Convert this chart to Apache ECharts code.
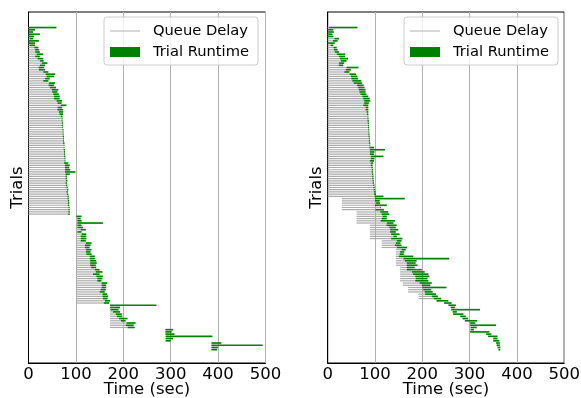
<!DOCTYPE html>
<html>
<head>
<meta charset="utf-8">
<script src="https://cdn.jsdelivr.net/npm/echarts@6/dist/echarts.min.js"></script>
<style>html,body{margin:0;padding:0;background:#fff}#c{width:581px;height:398px}</style>
</head>
<body>
<div id="c"></div>
<script>
// ---- data (seconds) ----
const xTicks = [0, 100, 200, 300, 400, 500];
const legendNames = ['Queue Delay', 'Trial Runtime'];

// Left panel: submit time, start time, end time per trial (top to bottom)
const leftSubmit = [
0,0,0,0,0,0,0,0,0,0, 0,0,0,0,0,0,0,0,0,0, 0,0,0,0,0,0,0,0,0,0, 0,0,0,0,0,0,0,0,0,0,
0,0,0,0,0,0,0,0,0,0, 0,0,0,0,0,0,0,0,0,0, 0,0,0,0,0,0,0,0,0,0, 0,0,0,0,0,0,0,0,0,0,
0,0,0,0,0,
100,100,100,100,100,100,100,100,100,100, 100,100,100,100,100,100,100,100,100,100,
100,100,100,100,100,100,100,100,100,100, 100,100,100,100,100,100,100,100,100,100,
172,172,172,172,172,172,172,172,172,172,172,
288,288,288,288,288,288,
385,385,385,385];
const leftStart = [
1,1,1,1,1,2,1,1,2,12, 14,14,17,14,19,24,28,24,21,22, 31,36,38,35,31,43,42,45,49,50,
52,54,54,59,61,68,61,61,64,65, 68,70,70,70.5,71,71,71.5,72,72,72, 73,73,73,74,74,74,75,75,75,76,
76,75,77,77,77,77,78,78,78,79, 78,79,80,81,80,81,82,82,83,83, 83,84,84,84,84,
101,103,103,103,103,103,110,103,112,110, 110,110,121,119,119,121,121,122,129,129,
130,130,130,132,140,142,136,143,145,145, 154,154,154,152,150,156,156,157,161,159,
172,172,173,178,184,186,191,195,207,205,209,
289,289,289,290,290,290,
386,386,386,386];
const leftEnd = [
59,14,10,24,12,10,22,14,14,21, 22,24,31,24,31,32,40,35,33,35, 42,56,54,45,42,56,54,58,63,61,
64,66,66,71,70,80,71,73,73,73, 72,72,72,73,73,73,74,74,74,75, 75,75,76,76,76,77,77,77,78,78,
78,84,87,86,88,99,87,81,81,82, 81,82,83,84,83,84,85,85,86,86, 86,87,87,87,87,
112,110,112,157,112,115,121,112,122,122, 122,121,133,131,129,133,131,133,140,140,
143,144,142,143,150,156,150,157,156,154, 166,164,164,163,161,166,168,167,172,170,
270,193,190,193,197,198,209,205,226,222,224,
305,302,308,388,305,300,
407,494,400,398];

// Right panel
const rightSubmit = [
0,0,0,0,0,0,0,0,0,0, 0,0,0,0,0,0,0,0,0,0, 0,0,0,0,0,0,0,0,0,0, 0,0,0,0,0,0,0,0,0,0,
0,0,0,0,0,0,0,0,0,0, 0,0,0,0,0,0,0,0,0,0, 0,0,0,0,0,0,0,0,0,0, 0,0,0,0,0,0,0,
30,30,30,30,30,30,
61,61,61,61,61,61,
89,89,89,89,89,89,89,
114,114,114,114,
144,144,144,144,144,144,144,144,
153,153,153,153,153,153,153,
159,159,
170,170,170,
192,192,192,
230,246,255,260,261,264,265,280,285,290, 301,301,302,302,301,335,339,350,350,356, 357,359,361];
const rightStart = [
3,1,1,1,1,14,11,1,6,12, 13,15,19,24,26,28,24,23,40,38, 35,46,49,50,52,55,62,64,66,67,
69,73,75,77,77,75,80,80,82,83, 84,84,84,84.5,85,85,85.5,86,86,86, 87,87,87,88,88,89,89,89,91,91,
89,91,91,92,93,93,93.5,94,94,95, 95,96,96,97,98,98,99,
100,100,102,100,111,101,
111,114,116,114,112,125,
124,130,132,132,134,139,134,
146,144,142,146,
156,153,152,150,160,163,167,167,
167,167,178,180,185,186,185,
194,199,
200,202,205,
206,220,224,
230,246,255,260,261,264,265,280,285,290, 301,301,302,302,301,335,339,350,350,356, 357,359,361];
const rightEnd = [
63,12,13,10,12,24,21,15,12,19, 21,24,37,37,43,40,35,33,65,49, 46,60,63,64,71,73,76,78,80,80,
82,86,89,90,87,86,86,86,86,86, 86,86.5,87,87,87,87.5,88,88,88.5,89, 89,89.5,90,90,98,121,99,98,118,99,
98,96,95,95.5,96,96,96.5,97,97,97.5, 98,99,99.5,100,101,102,118,
163,110,111,125,108,119,
128,130,125,125,142,139,
146,144,149,144,152,146,158,
156,154,156,168,
165,162,161,181,257,188,186,190,
184,199,205,213,215,211,213,
220,217,
251,219,222,
229,233,240,
255,262,271,269,322,273,287,292,297,316, 312,356,315,309,342,346,359,359,363,364, 364,365,365];

// ---- chart ----
const FONT = 'DejaVu Sans';
function rows(sub, st) { return sub.map((s, i) => [i, s, st[i]]); }

function grayItem(params, api) {
  const i = api.value(0);
  const a = api.coord([api.value(1), i]);
  const b = api.coord([api.value(2), i]);
  const w = b[0] - a[0];
  if (w <= 0) return null;
  return { type: 'rect', shape: { x: a[0], y: a[1] - 0.6, width: w, height: 1.2 },
           style: { fill: '#ababab' } };
}
function greenItem(params, api) {
  const i = api.value(0);
  const a = api.coord([api.value(1), i]);
  const b = api.coord([api.value(2), i]);
  const h = api.size([0, 1])[1] * 0.75;
  return { type: 'rect', shape: { x: a[0], y: a[1] - h / 2, width: Math.max(b[0] - a[0], 0.8), height: h },
           style: { fill: '#008000' } };
}

function xAxisCfg(g) {
  return {
    gridIndex: g, type: 'value', min: 0, max: 500, interval: 100,
    axisLine: { show: true, onZero: false, lineStyle: { color: '#000', width: 1 } },
    axisTick: { show: false },
    axisLabel: { color: '#000', fontSize: 16.5, fontFamily: FONT, margin: 3,
                 formatter: v => xTicks.includes(v) ? String(v) : '' },
    splitLine: { show: true, lineStyle: { color: '#b0b0b0', width: 1 } },
    name: 'Time (sec)', nameLocation: 'middle', nameGap: 18, nameMoveOverlap: false,
    nameTextStyle: { color: '#000', fontSize: 16.5, fontFamily: FONT }
  };
}
function yAxisCfg(g) {
  return {
    gridIndex: g, type: 'value', inverse: true, min: -7, max: 151,
    axisLine: { show: true, onZero: false, lineStyle: { color: '#000', width: 1 } },
    axisTick: { show: false }, axisLabel: { show: false }, splitLine: { show: false },
    name: 'Trials', nameLocation: 'middle', nameGap: 2, nameMoveOverlap: false,
    nameTextStyle: { color: '#000', fontSize: 16.5, fontFamily: FONT }
  };
}
function legendCfg(left) {
  return {
    left: left, top: 17, orient: 'vertical', selectedMode: false,
    backgroundColor: 'rgba(255,255,255,0.8)', borderColor: '#cccccc', borderWidth: 1, borderRadius: 3,
    padding: [6, 9, 5, 6], itemWidth: 30, itemHeight: 10, itemGap: 5,
    textStyle: { color: '#000', fontSize: 14.7, fontFamily: FONT, lineHeight: 16, padding: [0, 0, 0, 8] },
    data: [
      { name: legendNames[0], icon: 'path://M0,0L30,0L30,1L0,1Z', itemStyle: { color: '#b0b0b0' } },
      { name: legendNames[1], icon: 'rect', itemStyle: { color: '#008000' } }
    ]
  };
}

const chart = echarts.init(document.getElementById('c'), null, { renderer: 'canvas' });
chart.setOption({
  animation: false,
  backgroundColor: '#fff',
  grid: [
    { left: 28.5, top: 12, width: 237, height: 351, show: true, borderColor: '#000', borderWidth: 1,
      backgroundColor: 'transparent', containLabel: false, outerBoundsMode: 'none' },
    { left: 327.7, top: 12, width: 236.5, height: 351, show: true, borderColor: '#000', borderWidth: 1,
      backgroundColor: 'transparent', containLabel: false, outerBoundsMode: 'none' }
  ],
  xAxis: [xAxisCfg(0), xAxisCfg(1)],
  yAxis: [yAxisCfg(0), yAxisCfg(1)],
  legend: [legendCfg(104), legendCfg(404)],
  series: [
    { name: legendNames[0], type: 'custom', xAxisIndex: 0, yAxisIndex: 0, renderItem: grayItem,
      itemStyle: { color: '#b0b0b0' }, encode: { x: [1, 2], y: 0 }, data: rows(leftSubmit, leftStart) },
    { name: legendNames[1], type: 'custom', xAxisIndex: 0, yAxisIndex: 0, renderItem: greenItem,
      itemStyle: { color: '#008000' }, encode: { x: [1, 2], y: 0 }, data: rows(leftStart, leftEnd) },
    { name: legendNames[0], type: 'custom', xAxisIndex: 1, yAxisIndex: 1, renderItem: grayItem,
      itemStyle: { color: '#b0b0b0' }, encode: { x: [1, 2], y: 0 }, data: rows(rightSubmit, rightStart) },
    { name: legendNames[1], type: 'custom', xAxisIndex: 1, yAxisIndex: 1, renderItem: greenItem,
      itemStyle: { color: '#008000' }, encode: { x: [1, 2], y: 0 }, data: rows(rightStart, rightEnd) }
  ]
});
</script>
</body>
</html>
